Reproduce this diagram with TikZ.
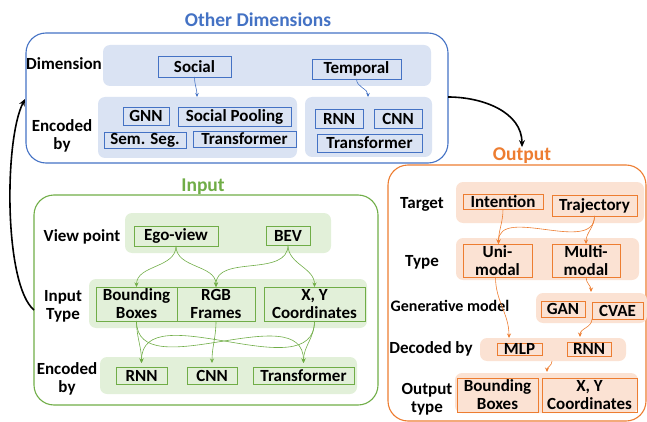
\documentclass[tikz,border=0pt]{standalone}
\usepackage{fontspec}
\setmainfont{Carlito}
\usetikzlibrary{arrows.meta}
\definecolor{bl}{HTML}{4472C4}
\definecolor{blf}{HTML}{DAE3F3}
\definecolor{gr}{HTML}{70AD47}
\definecolor{grf}{HTML}{E2F0D9}
\definecolor{orc}{HTML}{ED7D31}
\definecolor{orf}{HTML}{FBE2D3}
\newcommand\pbox[7]{\node[#1,anchor=north west,minimum width={(#4)-(#2)},minimum height={(#5)-(#3)}] (#6) at (#2,#3) {#7};}
\begin{document}
\begin{tikzpicture}[x=1pt,y=-1pt,
  font=\bfseries\fontsize{17}{18}\selectfont,
  every node/.style={inner sep=0pt,outer sep=0pt,align=center},
  ttl/.style={font=\bfseries\fontsize{19.5}{20}\selectfont},
  lbl/.style={font=\bfseries\fontsize{17}{18}\selectfont},
  bout/.style={draw=bl,line width=1.1pt,rounded corners=20pt},
  gout/.style={draw=gr,line width=1.1pt,rounded corners=20pt},
  oout/.style={draw=orc,line width=1.1pt,rounded corners=20pt},
  bband/.style={fill=blf,rounded corners=7pt},
  gband/.style={fill=grf,rounded corners=7pt},
  oband/.style={fill=orf,rounded corners=7pt},
  bbx/.style={draw=bl,line width=0.8pt},
  gbx/.style={draw=gr,line width=0.8pt},
  obx/.style={draw=orc,line width=0.8pt},
  barr/.style={draw=bl,line width=0.6pt,-{Stealth[length=4pt,width=3.5pt]}},
  garr/.style={draw=gr,line width=0.6pt,-{Stealth[length=4.5pt,width=4pt]}},
  oarr/.style={draw=orc,line width=0.6pt,-{Stealth[length=4.5pt,width=4pt]}},
  karr/.style={draw=black,line width=1.6pt,-{Stealth[length=7pt,width=6pt]}}]
\useasboundingbox (0,0) rectangle (647,422);

% ---------- Other Dimensions ----------
\node[ttl,text=bl] (dimtitle) at (258,20) {Other Dimensions};
\pbox{bout}{26}{33}{448}{163}{bouter}{}
\pbox{bband}{103}{45}{431}{86}{dimband}{}
\pbox{bband}{98}{97}{297}{158}{encl}{}
\pbox{bband}{305}{97}{432}{157}{encr}{}
\node[lbl] (dimlbl) at (64,64) {Dimension};
\node[lbl] (benclbl) at (62,136) {Encoded\\by};
\pbox{bbx}{158}{56}{231}{77}{social}{Social}
\pbox{bbx}{312}{59}{401}{79}{temporal}{Temporal}
\pbox{bbx}{123}{107}{169}{125}{gnn}{GNN}
\pbox{bbx}{178}{107}{291}{126}{pool}{Social Pooling}
\pbox{bbx}{104}{132}{186}{148}{sem}{Sem. Seg.}
\pbox{bbx}{193}{131}{296}{147}{trb}{Transformer}
\pbox{bbx}{315}{109}{363}{128}{rnnb}{RNN}
\pbox{bbx}{374}{109}{422}{128}{cnnb}{CNN}
\pbox{bbx}{317}{134}{422}{152}{trb2}{Transformer}
\coordinate (sa) at (197,97);
\coordinate (ta) at (368,97);
\draw[barr] (social.south) to[out=-90,in=90] (sa);
\draw[barr] (temporal.south) to[out=-90,in=90] (ta);

% ---------- Input ----------
\node[ttl,text=gr] (intitle) at (203,187) {Input};
\pbox{gout}{34}{195}{378}{405}{gouter}{}
\pbox{gband}{125}{213}{331}{253}{vpband}{}
\pbox{gband}{89}{279}{367}{328}{itband}{}
\pbox{gband}{100}{357}{357}{394}{ebband}{}
\node[lbl] (vplbl) at (82,237) {View point};
\node[lbl] (itlbl) at (63,306) {Input\\Type};
\node[lbl] (geblbl) at (67,379) {Encoded\\by};
\pbox{gbx}{134}{226}{218}{246}{ego}{Ego-view}
\pbox{gbx}{266}{226}{310}{245}{bev}{BEV}
\pbox{gbx}{96}{287}{177}{321}{bb}{Bounding\\Boxes}
\pbox{gbx}{177}{287}{255}{321}{rgb}{RGB\\Frames}
\pbox{gbx}{264}{287}{365}{321}{xy}{X, Y\\Coordinates}
\pbox{gbx}{116}{367}{167}{384}{rnng}{RNN}
\pbox{gbx}{187}{367}{237}{384}{cnng}{CNN}
\pbox{gbx}{253}{367}{354}{384}{trg}{Transformer}
\draw[garr] (ego.south) to[out=-90,in=90] (bb.north);
\draw[garr] (ego.south) to[out=-90,in=90] (rgb.north);
\draw[garr] (bev.south) to[out=-90,in=90] (rgb.north);
\draw[garr] (bev.south) to[out=-90,in=90] (xy.north);
\draw[garr] (bb.south) to[out=-90,in=90] ([yshift=4pt]rnng.north);
\draw[garr] (bb.south) to[out=-90,in=90] ([yshift=4pt]trg.north);
\draw[garr] (rgb.south) to[out=-90,in=90] ([yshift=4pt]cnng.north);
\draw[garr] (xy.south) to[out=-90,in=90] ([yshift=4pt]rnng.north);
\draw[garr] (xy.south) to[out=-90,in=90] ([yshift=4pt]trg.north);

% ---------- Output ----------
\node[ttl,text=orc] (outtitle) at (522,156) {Output};
\pbox{oout}{388}{165}{646}{421}{oouter}{}
\pbox{oband}{456}{182}{644}{223}{tband}{}
\pbox{oband}{456}{238}{639}{280}{tyband}{}
\pbox{oband}{536}{293}{647}{323}{gband}{}
\pbox{oband}{480}{338}{626}{361}{dband}{}
\pbox{oband}{455}{373}{638}{413}{otband}{}
\node[lbl] (tlbl) at (422,204) {Target};
\node[lbl] (tylbl) at (422,262) {Type};
\node[lbl,font=\bfseries\fontsize{16}{18}\selectfont] (glbl) at (450,306) {Generative model};
\node[lbl] (dlbl) at (431,349) {Decoded by};
\node[lbl] (otlbl) at (427,399) {Output\\type};
\pbox{obx}{463}{194}{543}{209}{intent}{Intention}
\pbox{obx}{552}{195}{637}{216}{traj}{Trajectory}
\pbox{obx}{463}{244}{532}{277}{uni}{Uni-\\modal}
\pbox{obx}{552}{244}{620}{277}{multi}{Multi-\\modal}
\pbox{obx}{541}{301}{585}{317}{gan}{GAN}
\pbox{obx}{592}{302}{643}{319}{cvae}{CVAE}
\pbox{obx}{497}{343}{542}{355}{mlp}{MLP}
\pbox{obx}{567}{342}{611}{356}{rnno}{RNN}
\pbox{obx}{457}{378}{538}{412}{obb}{Bounding\\Boxes}
\pbox{obx}{542}{378}{637}{412}{oxy}{X, Y\\Coordinates}
\coordinate (ga) at (591,292);
\coordinate (ma) at (509,338);
\coordinate (ra) at (580,337);
\coordinate (ds) at (552,361);
\coordinate (oa) at (547,372);
\draw[oarr] (intent.south) to[out=-90,in=90] ([xshift=1pt]uni.north);
\draw[oarr] (traj.south) to[out=-90,in=90] ([xshift=1pt]uni.north);
\draw[oarr] (traj.south) to[out=-90,in=90] (multi.north);
\draw[oarr] (multi.south) to[out=-90,in=90] (ga);
\draw[oarr] ([xshift=-2pt]uni.south) to[out=-90,in=90] (ma);
\draw[oarr] (cvae.south west) to[out=-90,in=90] (ra);
\draw[oarr] (ds) to[out=-90,in=90] (oa);

% ---------- black connectors ----------
\coordinate (k1) at (448,97);
\coordinate (k2) at (34,310);
\coordinate (k3) at (25,99);
\draw[karr] (k1) to[out=0,in=90] ([yshift=1pt]outtitle.north);
\draw[karr] (k2) .. controls (4,285) and (4,140) .. (k3);
\end{tikzpicture}
\end{document}
